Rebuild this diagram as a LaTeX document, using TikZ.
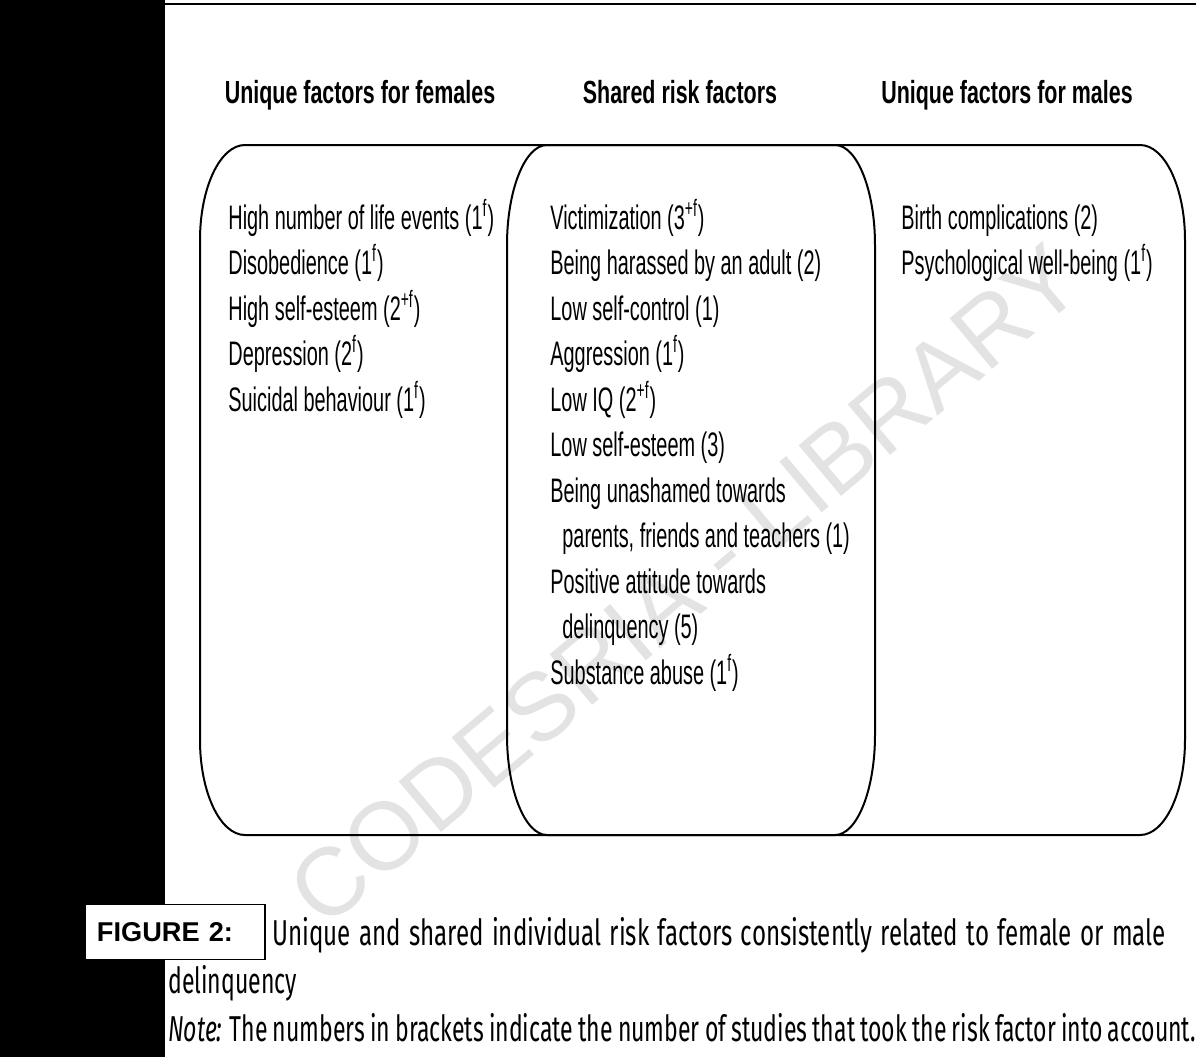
\documentclass[tikz,border=0pt]{standalone}
\usepackage{fontspec}
\setmainfont{Liberation Sans}
\newfontfamily\narrowfont[FakeStretch=0.585]{Liberation Sans}
\newfontfamily\headfont[FakeStretch=0.67]{Liberation Sans}
\newfontfamily\capfont[FakeStretch=0.64, WordSpace=0.85]{Fira Sans}
\newfontfamily\capwidefont[FakeStretch=0.67, WordSpace=1.3]{Fira Sans}
\usetikzlibrary{positioning}

\begin{document}
\begin{tikzpicture}[x=0.5pt, y=-0.5pt,
  head/.style={font=\headfont\bfseries\fontsize{16}{19}\selectfont, anchor=base, inner sep=0pt},
  item/.style={font=\narrowfont\fontsize{17}{20}\selectfont, anchor=base west, inner sep=0pt},
  frame/.style={line width=1pt},
  captext/.style={font=\capfont\fontsize{18}{21}\selectfont, anchor=base west, inner sep=0pt}]
\useasboundingbox (0,0) rectangle (1196,1057);
% page edge and watermark
\fill (0,0) rectangle (165,1057);
\draw[line width=0.8pt] (165,4) -- (1196,4);
\node[rotate=40, text=gray!22, font=\fontsize{48}{50}\selectfont] (wm) at (685,585) {CODESRIA - LIBRARY};
% column heads
\node[head] (hfem) at (360,103) {Unique factors for females};
\node[head] (hshared) at (680,103) {Shared risk factors};
\node[head] (hmale) at (1007,103) {Unique factors for males};
% frames
\draw[frame] (245,145) -- (1140,145) .. controls (1165,145) and (1185,188) .. (1185,240)
  -- (1185,740) .. controls (1185,792) and (1165,835) .. (1140,835)
  -- (245,835) .. controls (220,835) and (200,792) .. (200,740)
  -- (200,240) .. controls (200,188) and (220,145) .. cycle;
\draw[frame] (547,145) -- (835,145) .. controls (857,145) and (875,190) .. (875,245)
  -- (875,735) .. controls (875,790) and (857,835) .. (835,835)
  -- (547,835) .. controls (525,835) and (507,790) .. (507,735)
  -- (507,245) .. controls (507,190) and (525,145) .. cycle;
% factors
\foreach \txt [count=\i] in {High number of life events (1\textsuperscript{f}),
    Disobedience (1\textsuperscript{f}), High self-esteem (2\textsuperscript{+f}),
    Depression (2\textsuperscript{f}), Suicidal behaviour (1\textsuperscript{f})}
  \node[item] (fem\i) at (228,{229+45.5*(\i-1)}) {\txt};
\foreach \txt [count=\i] in {Victimization (3\textsuperscript{+f}),
    Being harassed by an adult (2), Low self-control (1), Aggression (1\textsuperscript{f}),
    Low IQ (2\textsuperscript{+f}), Low self-esteem (3), Being unashamed towards,
    {\hspace*{6pt}parents, friends and teachers (1)}, Positive attitude towards,
    \hspace*{6pt}delinquency (5), Substance abuse (1\textsuperscript{f})}
  \node[item] (sh\i) at (550,{229+45.5*(\i-1)}) {\txt};
\foreach \txt [count=\i] in {Birth complications (2), Psychological well-being (1\textsuperscript{f})}
  \node[item] (male\i) at (901,{229+45.5*(\i-1)}) {\txt};
% caption
\node[draw, fill=white, line width=0.6pt, minimum width=90pt, minimum height=27.5pt,
  inner xsep=6pt, text width=78pt, align=left,
  font=\bfseries\fontsize{13.6}{16}\selectfont] (figlab) at (175,932) {FIGURE 2:};
\node[captext, font=\capwidefont\fontsize{18}{21}\selectfont] (cap1) at (272,945) {Unique and shared individual risk factors consistently related to female or male};
\node[captext] (cap2) at (168,993) {delinquency};
\node[captext] (note) at (168,1041) {\textit{Note:} The numbers in brackets indicate the number of studies that took the risk factor into account.};
\end{tikzpicture}
\end{document}
